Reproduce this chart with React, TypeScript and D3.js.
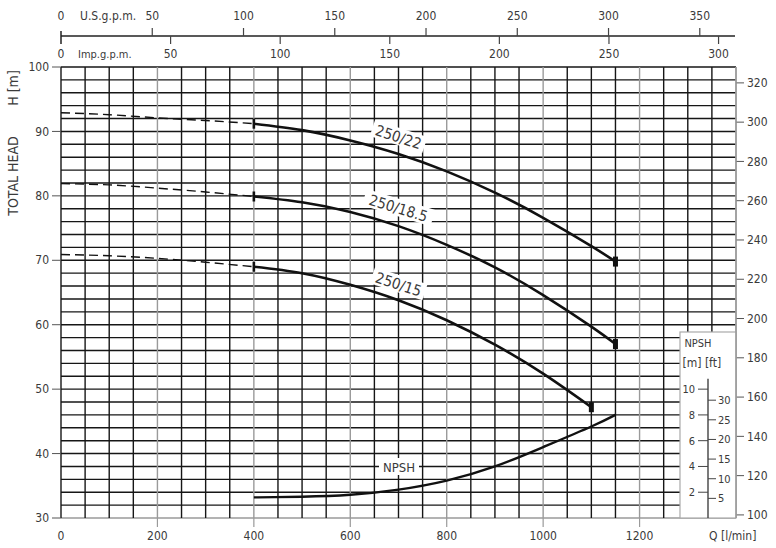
import * as d3 from "d3";

// flow Q [l/min] where points were read
const qDash = [0, 100, 200, 300, 400];
const qSolid = [400, 500, 600, 700, 800, 900, 1000, 1100, 1150];
const qSolid15 = [400, 500, 600, 700, 800, 900, 1000, 1100];
const qNpsh = [400, 500, 600, 700, 800, 900, 1000, 1100, 1150];

// head H [m]
const h22Dash = [92.9, 92.6, 92.1, 91.7, 91.2];
const h22 = [91.2, 90.2, 88.6, 86.5, 83.8, 80.5, 76.6, 72.2, 69.8];
const h185Dash = [81.9, 81.7, 81.2, 80.6, 79.9];
const h185 = [79.9, 79.0, 77.5, 75.3, 72.4, 68.9, 64.6, 59.7, 57.0];
const h15Dash = [70.9, 70.7, 70.3, 69.7, 69.0];
const h15 = [69.0, 68.0, 66.2, 63.8, 60.7, 56.9, 52.4, 47.2];
// NPSH [m]
const npsh = [1.6, 1.65, 1.8, 2.2, 2.9, 4.0, 5.5, 7.1, 8.0];

const curveNames = ["250/22", "250/18.5", "250/15"];

// tick labels
const hTicks = [30, 40, 50, 60, 70, 80, 90, 100];
const qTicks = [0, 200, 400, 600, 800, 1000, 1200];
const ftTicks = [100, 120, 140, 160, 180, 200, 220, 240, 260, 280, 300, 320];
const usTicks = [50, 100, 150, 200, 250, 300, 350];
const impTicks = [50, 100, 150, 200, 250, 300];
const npshMTicks = [2, 4, 6, 8, 10];
const npshFtTicks = [5, 10, 15, 20, 25, 30];

const W = 776, H = 548;
const FONT = "'DejaVu Sans Condensed', 'Liberation Sans Narrow', 'DejaVu Sans', sans-serif";
const TXT = "#3a3a3a";
const GRID = "#161616";
const MAJOR = "#9a9a9a";

const x = d3.scaleLinear().domain([0, 1400]).range([61, 736]);
const y = d3.scaleLinear().domain([30, 100]).range([518, 67]);
const yNpsh = d3.scaleLinear().domain([0, 10]).range([y(30), y(50)]);
const FT = 0.3048;
const US = 3.78541, IMP = 4.54609;

const line = d3.line<[number, number]>().x(d => x(d[0])).y(d => y(d[1])).curve(d3.curveNatural);
const lineNpsh = d3.line<[number, number]>().x(d => x(d[0])).y(d => yNpsh(d[1])).curve(d3.curveNatural);

const zip = (a: number[], b: number[]) => a.map((v, i) => [v, b[i]] as [number, number]);

export default function App() {
  const vLines = d3.range(0, 1401, 50);
  const hLines = d3.range(30, 101, 2);
  const curves = [
    { name: curveNames[0], dash: h22Dash, qs: qSolid, solid: h22, rot: 18, off: 17 },
    { name: curveNames[1], dash: h185Dash, qs: qSolid, solid: h185, rot: 17, off: 18 },
    { name: curveNames[2], dash: h15Dash, qs: qSolid15, solid: h15, rot: 18, off: 16 },
  ];

  const inset = { x0: 680, x1: 736, y0: 332, y1: 518 };
  const axX = 708;

  return (
    <svg width={W} height={H} style={{ position: "absolute", left: 0, top: 0, background: "#fff" }}
      fontFamily={FONT}>
      <rect width={W} height={H} fill="#fff" />

      {/* grid */}
      {hLines.map(h => (
        <line key={"h" + h} x1={x(0)} x2={x(1400)} y1={y(h)} y2={y(h)}
          stroke={h === 30 ? MAJOR : GRID} strokeWidth={1.4} />
      ))}
      {vLines.map(q => (
        <line key={"v" + q} x1={x(q)} x2={x(q)} y1={y(30)} y2={y(100)}
          stroke={q > 0 && (q % 200 === 0 || q === 1400) ? MAJOR : GRID} strokeWidth={1.4} />
      ))}

      {/* left axis */}
      {hTicks.map(h => (
        <g key={"lt" + h}>
          <line x1={52} x2={x(0)} y1={y(h)} y2={y(h)} stroke="#555" strokeWidth={1} />
          <text x={49} y={y(h)} dy="0.35em" textAnchor="end" fontSize={12} fill={TXT}>{h}</text>
        </g>
      ))}
      <text transform={`translate(18,176) rotate(-90)`} textAnchor="middle" fontSize={14} fill={TXT}>TOTAL HEAD</text>
      <text transform={`translate(18,88) rotate(-90)`} textAnchor="middle" fontSize={14} fill={TXT}>H [m]</text>

      {/* bottom axis */}
      {qTicks.map(q => (
        <g key={"bt" + q}>
          {q > 0 && <line x1={x(q)} x2={x(q)} y1={518} y2={527} stroke={MAJOR} strokeWidth={1.2} />}
          <text x={x(q)} y={540} textAnchor="middle" fontSize={12} fill={TXT}>{q}</text>
        </g>
      ))}
      <text x={709} y={540} fontSize={12} fill={TXT}>Q [l/min]</text>

      {/* right axis, ft */}
      {ftTicks.map(f => (
        <g key={"rt" + f}>
          <line x1={x(1400)} x2={744} y1={y(f * FT)} y2={y(f * FT)} stroke="#555" strokeWidth={1} />
          <text x={747} y={y(f * FT)} dy="0.35em" fontSize={12} fill={TXT}>{f}</text>
        </g>
      ))}

      {/* top axes */}
      <line x1={x(0)} x2={735} y1={36} y2={36} stroke="#222" strokeWidth={1.5} />
      <line x1={x(0)} x2={x(0)} y1={31} y2={44} stroke="#222" strokeWidth={1.5} />
      {usTicks.map(g => (
        <g key={"us" + g}>
          <line x1={x(g * US)} x2={x(g * US)} y1={28} y2={36} stroke="#444" strokeWidth={1.2} />
          <text x={x(g * US)} y={20} textAnchor="middle" fontSize={12} fill={TXT}>{g}</text>
        </g>
      ))}
      {impTicks.map(g => (
        <g key={"imp" + g}>
          <line x1={x(g * IMP)} x2={x(g * IMP)} y1={36} y2={44} stroke="#444" strokeWidth={1.2} />
          <text x={x(g * IMP)} y={58} textAnchor="middle" fontSize={12} fill={TXT}>{g}</text>
        </g>
      ))}
      <text x={x(0)} y={20} textAnchor="middle" fontSize={12} fill={TXT}>0</text>
      <text x={80} y={20} fontSize={12} fill={TXT}>U.S.g.p.m.</text>
      <text x={x(0)} y={58} textAnchor="middle" fontSize={12} fill={TXT}>0</text>
      <text x={78} y={58} fontSize={11} fill={TXT}>Imp.g.p.m.</text>

      {/* curves */}
      {curves.map((c, i) => {
        const dashPts = zip(qDash, c.dash);
        const pts = zip(c.qs, c.solid);
        const end = pts[pts.length - 1];
        return (
          <g key={"c" + i}>
            <path d={line(dashPts) || ""} fill="none" stroke="#111" strokeWidth={1.4} strokeDasharray="9,5" />
            <path d={line(pts) || ""} fill="none" stroke="#111" strokeWidth={2.6} />
            <rect x={x(400) - 1.3} y={y(c.solid[0]) - 5} width={2.6} height={10} fill="#111" />
            <rect x={x(end[0]) - 2.5} y={y(end[1]) - 5} width={5} height={10} fill="#111" />
          </g>
        );
      })}

      {/* curve labels */}
      {curves.map((c, i) => {
        const q = 700;
        const hv = c.solid[c.qs.indexOf(q)];
        const cx = x(q);
        const cy = y(hv) - c.off;
        const w = c.name.length * 8.2 + 6;
        return (
          <g key={"l" + i} transform={`translate(${cx},${cy}) rotate(${c.rot})`}>
            <rect x={-w / 2} y={-9} width={w} height={17} fill="#fff" />
            <text textAnchor="middle" dy="0.36em" fontSize={15} fill={TXT}>{c.name}</text>
          </g>
        );
      })}

      {/* NPSH curve */}
      <path d={lineNpsh(zip(qNpsh, npsh)) || ""} fill="none" stroke="#111" strokeWidth={2.4} />
      <rect x={379} y={458} width={40} height={17} fill="#fff" />
      <text x={399} y={467} dy="0.36em" textAnchor="middle" fontSize={13} fill={TXT}>NPSH</text>

      {/* NPSH inset */}
      <rect x={inset.x0} y={inset.y0} width={inset.x1 - inset.x0} height={inset.y1 - inset.y0}
        fill="#fff" stroke="#aaa" strokeWidth={1.2} />
      <line x1={x(1400)} x2={x(1400)} y1={y(100)} y2={y(30)} stroke={MAJOR} strokeWidth={1.4} />
      <text x={698} y={347} textAnchor="middle" fontSize={11} fill={TXT}>NPSH</text>
      <text x={692} y={367} textAnchor="middle" fontSize={12} fill={TXT}>[m]</text>
      <text x={713} y={367} textAnchor="middle" fontSize={12} fill={TXT}>[ft]</text>
      <line x1={axX} x2={axX} y1={yNpsh(10.8)} y2={yNpsh(0)} stroke="#333" strokeWidth={1.3} />
      {npshMTicks.map(m => (
        <g key={"nm" + m}>
          <line x1={698} x2={axX} y1={yNpsh(m)} y2={yNpsh(m)} stroke="#444" strokeWidth={1} />
          <text x={695} y={yNpsh(m)} dy="0.35em" textAnchor="end" fontSize={11} fill={TXT}>{m}</text>
        </g>
      ))}
      {npshFtTicks.map(f => (
        <g key={"nf" + f}>
          <line x1={axX} x2={716} y1={yNpsh(f * FT)} y2={yNpsh(f * FT)} stroke="#444" strokeWidth={1} />
          <text x={718} y={yNpsh(f * FT)} dy="0.35em" fontSize={11} fill={TXT}>{f}</text>
        </g>
      ))}
    </svg>
  );
}
